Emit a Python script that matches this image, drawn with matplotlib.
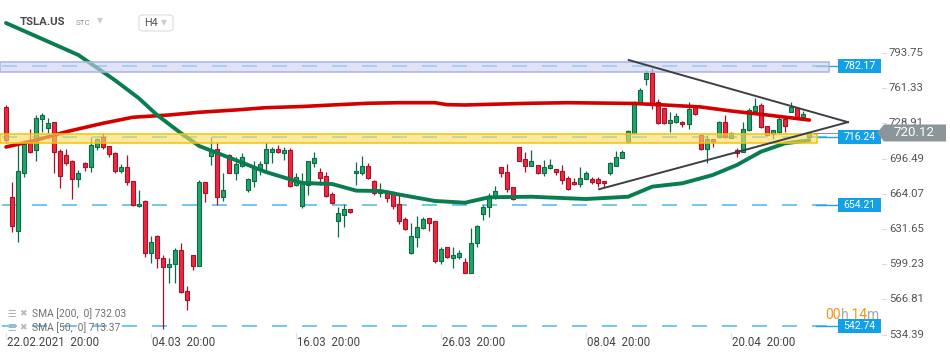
import matplotlib.pyplot as plt
from matplotlib.patches import Rectangle, Polygon, FancyBboxPatch
from matplotlib.transforms import blended_transform_factory

plt.rcParams['font.family'] = ['Roboto', 'DejaVu Sans']
plt.rcParams['lines.scale_dashes'] = False

W, H = 950, 361

# TSLA.US H4 candles (22.02.2021 20:00 onwards)
opens = [744.3, 660.9, 630.1, 683.5, 713.7, 704.4, 732.7, 724.4, 729.9, 703.5,
         699.8, 694.3, 677.7, 692.2, 689.1, 707.5, 716.7, 708.1, 702.0, 685.1,
         689.1, 675.9, 652.5, 657.5, 609.3, 625.2, 604.7, 597.0, 599.5, 612.1,
         574.6, 607.7, 597.9, 674.7, 699.2, 705.1, 661.4, 699.8, 683.5, 689.7,
         667.6, 676.2, 686.9, 692.8, 702.9, 705.4, 702.0, 704.4, 672.2, 652.9,
         672.2, 692.8, 683.9, 680.5, 663.7, 639.3, 644.6, 649.8, 683.0, 683.0,
         689.7, 675.9, 665.1, 667.0, 666.0, 654.7, 640.9, 609.9, 624.0, 632.3,
         641.5, 639.1, 602.5, 614.8, 605.3, 606.2, 601.0, 591.4, 618.5, 645.5,
         651.7, 661.4, 688.5, 683.9, 670.1, 706.9, 695.9, 690.0, 690.6, 683.5,
         687.6, 686.7, 685.4, 678.4, 674.7, 673.1, 677.7, 677.5, 677.5, 675.9,
         683.5, 689.7, 697.4, 712.1, 720.4, 748.0, 769.6, 775.6, 748.9, 742.9,
         729.0, 730.5, 730.5, 728.1, 744.3, 718.3, 705.1, 714.3, 716.1, 730.5,
         715.8, 704.4, 702.9, 722.9, 740.7, 745.9, 726.5, 719.2, 721.3, 732.7,
         739.7, 742.9, 734.6, 716.5]
highs = [745.5, 675.3, 709.7, 713.7, 723.5, 736.7, 738.2, 733.6, 730.5, 705.0,
         705.0, 694.8, 686.0, 693.7, 716.7, 715.8, 719.8, 708.5, 702.5, 691.6,
         699.8, 676.3, 667.6, 658.0, 625.5, 626.0, 607.7, 604.7, 613.9, 618.5,
         579.2, 608.0, 676.8, 675.0, 716.7, 712.1, 683.0, 700.3, 698.3, 701.9,
         678.3, 694.3, 694.3, 712.1, 707.5, 709.1, 707.5, 706.0, 683.0, 683.5,
         694.6, 702.9, 687.6, 684.5, 666.0, 652.2, 654.7, 650.2, 693.1, 698.9,
         692.2, 676.8, 674.3, 667.5, 666.5, 664.6, 642.5, 636.9, 643.7, 642.5,
         642.0, 639.5, 614.8, 615.2, 615.4, 612.4, 604.7, 632.3, 635.0, 653.8,
         664.6, 671.3, 689.0, 691.6, 670.5, 707.3, 702.9, 704.4, 691.0, 695.2,
         695.9, 687.0, 690.6, 680.8, 678.9, 688.5, 685.4, 679.9, 679.9, 676.2,
         693.7, 703.8, 704.4, 722.9, 749.2, 761.3, 778.1, 779.7, 751.1, 743.2,
         739.2, 738.2, 731.0, 748.4, 744.6, 719.0, 718.3, 714.6, 731.0, 736.7,
         720.6, 706.0, 730.5, 743.4, 752.1, 747.5, 727.0, 723.1, 736.7, 735.1,
         748.4, 743.8, 740.6, 721.0]
lows = [710.9, 629.2, 620.0, 679.9, 701.5, 694.6, 721.3, 719.8, 683.5, 669.7,
        690.6, 659.3, 670.7, 685.1, 684.5, 704.4, 705.1, 698.3, 683.5, 683.5,
        672.5, 653.0, 652.0, 606.2, 600.1, 595.5, 539.3, 581.7, 581.7, 573.0,
        557.1, 593.9, 597.5, 656.8, 690.6, 653.8, 657.8, 683.0, 676.8, 689.1,
        666.0, 670.7, 681.4, 684.5, 692.2, 702.0, 695.2, 670.7, 671.3, 650.8,
        663.0, 689.1, 672.2, 661.6, 654.8, 624.0, 633.8, 646.1, 672.2, 681.4,
        677.7, 663.0, 661.4, 656.8, 650.1, 636.3, 630.8, 608.7, 614.8, 631.7,
        630.1, 600.7, 599.5, 605.0, 595.5, 603.8, 590.9, 590.9, 614.8, 640.0,
        643.0, 659.0, 679.9, 666.0, 658.4, 694.0, 684.5, 689.5, 682.3, 680.5,
        686.9, 681.4, 673.1, 667.6, 672.2, 670.7, 677.5, 673.1, 670.1, 670.1,
        681.4, 689.5, 696.8, 710.6, 720.0, 747.5, 764.3, 741.9, 728.5, 728.6,
        721.3, 729.0, 725.9, 723.8, 737.0, 704.4, 692.2, 706.9, 715.2, 715.5,
        715.5, 697.7, 702.3, 722.2, 740.5, 724.4, 717.3, 714.6, 720.4, 721.3,
        739.5, 732.7, 733.6, 715.5]
closes = [713.7, 634.7, 685.1, 710.0, 702.3, 733.6, 736.7, 729.6, 702.3, 680.8,
          692.8, 677.5, 683.0, 689.1, 709.1, 714.3, 706.9, 700.5, 685.1, 688.5,
          674.7, 653.8, 654.4, 609.3, 619.4, 604.7, 597.0, 599.5, 612.1, 573.4,
          566.3, 597.9, 674.7, 664.6, 704.4, 661.4, 667.6, 683.5, 691.3, 697.7,
          677.5, 689.1, 691.3, 705.4, 705.4, 702.9, 704.4, 671.6, 679.9, 673.8,
          694.3, 696.8, 678.9, 662.4, 655.4, 646.1, 649.8, 647.6, 685.1, 689.7,
          678.4, 665.1, 666.7, 660.0, 653.2, 639.3, 631.7, 625.2, 633.3, 640.6,
          637.5, 602.5, 613.0, 605.6, 607.7, 609.3, 591.4, 619.1, 634.7, 651.7,
          661.4, 667.0, 683.0, 668.5, 659.0, 694.6, 690.0, 694.3, 683.5, 688.5,
          690.6, 684.5, 676.8, 668.5, 672.9, 678.9, 683.0, 675.3, 674.3, 673.8,
          692.2, 698.3, 702.3, 721.9, 748.9, 759.7, 775.6, 748.0, 729.0, 729.0,
          732.1, 735.8, 728.1, 742.2, 737.3, 705.1, 714.3, 712.1, 730.5, 716.1,
          720.4, 702.0, 723.5, 741.3, 745.0, 725.4, 718.3, 722.9, 732.7, 726.8,
          743.8, 733.6, 737.4, 720.12]

# moving averages (candle index, value)
sma200_x = [0, 5, 10, 16, 21, 27, 32, 38, 43, 49, 54, 60, 65, 71, 73, 76, 82,
            87, 93, 98, 104, 109, 115, 120, 126, 133]
sma200 = [707.2, 713.5, 721.3, 729.0, 734.6, 736.7, 739.2, 741.3, 743.4, 744.5,
          745.9, 747.5, 748.0, 748.0, 746.2, 745.9, 746.8, 747.5, 748.0, 747.7,
          747.3, 745.9, 744.1, 740.4, 736.7, 732.03]
sma50_x = [0, 6, 12, 18, 22, 25, 29, 32, 38, 43, 49, 54, 58, 62, 65, 71, 76, 80,
           87, 96, 103, 107, 112, 117, 121, 125, 129, 133]
sma50 = [821.4, 806.7, 791.9, 768.9, 752.1, 736.7, 719.8, 708.1, 695.2, 684.2,
         674.1, 673.1, 667.0, 666.7, 663.5, 657.5, 655.9, 660.9, 661.4, 659.3,
         661.4, 670.7, 673.8, 681.4, 690.6, 702.9, 710.6, 713.37]

levels = [782.17, 716.24, 654.21, 542.74]
zone_blue = (776.0, 785.2)
zone_yellow = (711.2, 718.9)
upper_x, upper_y = [103.1, 139.4], [787.3, 730.1]
lower_x, lower_y = [98.2, 139.4], [668.3, 730.1]
last_price = 720.12

y_ticks = [793.75, 761.33, 728.91, 696.49, 664.07, 631.65, 599.23, 566.81, 534.39]
x_tick_idx = [0, 24, 48, 72, 96, 120]
x_tick_labels = ['22.02.2021  20:00', '04.03  20:00', '16.03  20:00',
                 '26.03  20:00', '08.04  20:00', '20.04  20:00']

# pixel layout of the price pane
STEP, X0 = 6.04, 6
PPU, TOP = 1.0857, 842.6


def px2i(px):
    return (px - X0) / STEP


fig = plt.figure(figsize=(W / 100, H / 100), dpi=100)
ax = fig.add_axes([0, 0, 1, 1])
ax.set_xlim(px2i(0), px2i(W))
ax.set_ylim(TOP - H / PPU, TOP)
ax.axis('off')
bt = blended_transform_factory(ax.transAxes, ax.transData)
bx = blended_transform_factory(ax.transData, ax.transAxes)

# level lines
dash = (0, (10.8, 10.8))
for lvl in levels:
    ax.plot([px2i(2), px2i(836)], [lvl, lvl], color='#4db8ee', lw=1.1,
            ls=dash, zorder=1)
    ax.plot([px2i(816), px2i(838)], [lvl, lvl], color='#1aa3e8', lw=1, zorder=1)

# candles
for i, (o, h, l, c) in enumerate(zip(opens, highs, lows, closes)):
    if c >= o:
        fc, ec = '#22a56c', '#0c6b43'
    else:
        fc, ec = '#f0283c', '#a8102c'
    ax.vlines(i, l, h, color=ec, lw=0.9, zorder=2)
    ax.add_patch(Rectangle((i - 0.33, min(o, c)), 0.66, max(abs(c - o), 0.5),
                           facecolor=fc, edgecolor=ec, lw=0.8, zorder=2.5))

# SMAs
ax.plot(sma200_x, sma200, color='#d40000', lw=2.6, solid_capstyle='round', zorder=3)
ax.plot(sma50_x, sma50, color='#0a7d50', lw=2.8, solid_capstyle='round', zorder=3)

# zones
for (lo, hi), fc, ec, right in [(zone_blue, '#cdd2f0', '#aab2e4', 829),
                                (zone_yellow, '#f9dd6a', '#f5c400', 817)]:
    ax.add_patch(Rectangle((px2i(0), lo), px2i(right) - px2i(0), hi - lo,
                           facecolor=fc, alpha=0.62, lw=0, zorder=4))
    ax.add_patch(Rectangle((px2i(0), lo), px2i(right) - px2i(0), hi - lo,
                           fill=False, edgecolor=ec, lw=1.1, zorder=4))

# triangle
ax.plot(upper_x, upper_y, color='#3c4046', lw=1.4, zorder=5)
ax.plot(lower_x, lower_y, color='#3c4046', lw=1.4, zorder=5)

# current price line + label
ax.plot([px2i(814), px2i(878)], [last_price, last_price], color='#8c9599', lw=0.8, zorder=5)
hh = 8.5 / PPU
ax.add_patch(Polygon([(877 / W, last_price), (884 / W, last_price + hh),
                      (946 / W, last_price + hh), (946 / W, last_price - hh),
                      (884 / W, last_price - hh)], closed=True,
                     facecolor='#8c9599', lw=0, transform=bt, zorder=7))
ax.text(914 / W, last_price, '%.2f' % last_price, transform=bt, color='white',
        fontsize=9.6, ha='center', va='center', zorder=8)

# level labels
for lvl in levels:
    ax.add_patch(Rectangle((838 / W, lvl - 7 / PPU), 43 / W, 14 / PPU,
                           facecolor='#12a1e6', lw=0, transform=bt, zorder=6))
    ax.text(859.5 / W, lvl, '%.2f' % lvl, transform=bt, color='white',
            fontsize=7.6, ha='center', va='center', zorder=6.5)

# y axis labels
for v in y_ticks:
    ax.plot([882 / W, 886 / W], [v, v], color='#dddddd', lw=0.8, transform=bt)
    ax.text(889 / W, v, '%.2f' % v, transform=bt, color='#555555',
            fontsize=8.2, ha='left', va='center', zorder=5)

# x axis labels
for idx, lab in zip(x_tick_idx, x_tick_labels):
    ax.plot([idx, idx], [1 - 333 / H, 1 - 338 / H], color='#e2e2e2', lw=0.8, transform=bx)
    ax.text(idx + 0.15, 1 - 343 / H, lab, transform=bx, color='#444444',
            fontsize=8.3, ha='left', va='center')

# header
fig.text(20 / W, 1 - 22 / H, 'TSLA.US', fontsize=8.2, fontweight='bold',
         color='#4a4a4a', va='center')
fig.text(76 / W, 1 - 23 / H, 'STC', fontsize=5.8, color='#8595a5', va='center')
fig.text(97 / W, 1 - 21 / H, '▼', fontsize=5.5, color='#cccccc', va='center',
         family=['DejaVu Sans'])
fig.patches.append(FancyBboxPatch((139 / W, 1 - 31 / H), 34 / W, 16 / H,
                                  boxstyle='round,pad=0,rounding_size=0.006',
                                  facecolor='white', edgecolor='#dddddd', lw=0.8,
                                  transform=fig.transFigure, figure=fig))
fig.text(144 / W, 1 - 23 / H, 'H4', fontsize=7.8, color='#555555', va='center')
fig.text(161 / W, 1 - 23 / H, '▼', fontsize=5.5, color='#cccccc', va='center',
         family=['DejaVu Sans'])

# indicator legend
for yy, lab in [(314, 'SMA [200,  0] 732.03'), (328, 'SMA [50,  0] 713.37')]:
    fig.text(7 / W, 1 - yy / H, '☰', fontsize=7, color='#b0b0b0', va='center',
             family=['DejaVu Sans'])
    fig.text(19 / W, 1 - yy / H, '✖', fontsize=6.5, color='#b8b8b8', va='center',
             family=['DejaVu Sans'])
    fig.text(32 / W, 1 - yy / H, lab, fontsize=7.4, color='#707070', va='center')

# candle timer
t = fig.text(825 / W, 1 - 315 / H, '00', fontsize=10, color='#f7941d', va='center')
for part, col in [('h', '#a8a8a8'), (' 14', '#f7941d'), ('m', '#a8a8a8')]:
    t = ax.annotate(part, xycoords=t, xy=(1, 0), va='bottom', fontsize=10, color=col)

fig.savefig('out.png', dpi=100)
